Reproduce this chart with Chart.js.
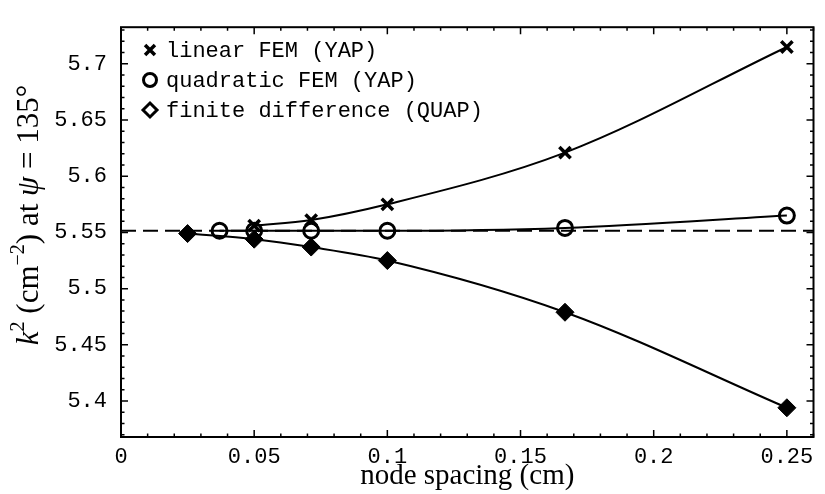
<!DOCTYPE html>
<html>
<head>
<meta charset="utf-8">
<script src="https://cdn.jsdelivr.net/npm/chart.js@4"></script>
<style>
  html, body { margin: 0; padding: 0; background: #fff; }
  canvas { display: block; }
</style>
</head>
<body>
<canvas id="k2Chart" width="825" height="494"></canvas>
<script>
// node spacings (cm) and k^2 values
const linearX = [0.05, 0.0714, 0.1, 0.1667, 0.25];
const linearK2 = [5.556, 5.561, 5.575, 5.621, 5.715];

const quadX = [0.037, 0.05, 0.0714, 0.1, 0.1667, 0.25];
const quadK2 = [5.5515, 5.5515, 5.5515, 5.5515, 5.554, 5.565];

const fdX = [0.025, 0.05, 0.0714, 0.1, 0.1667, 0.25];
const fdK2 = [5.549, 5.544, 5.537, 5.525, 5.479, 5.394];

const extrapolatedK2 = 5.5515;
const xRange = [0, 0.26];
const yRange = [5.368, 5.7326];

const xTicks = [0, 0.05, 0.1, 0.15, 0.2, 0.25];
const yTicks = [5.4, 5.45, 5.5, 5.55, 5.6, 5.65, 5.7];

const labels = ["linear FEM (YAP)", "quadratic FEM (YAP)", "finite difference (QUAP)"];

const toPoints = (xs, ys) => xs.map((x, i) => ({ x: x, y: ys[i] }));

const monoFont = '"Liberation Mono", "DejaVu Sans Mono", monospace';
const serifFont = '"Liberation Serif", "DejaVu Serif", serif';

// frame, inward ticks, legend and y title
const decorations = {
    id: "decorations",
    afterDraw(chart) {
        const ctx = chart.ctx;
        const area = chart.chartArea;
        const xs = chart.scales.x;
        const ys = chart.scales.y;
        ctx.save();
        ctx.strokeStyle = "#000";
        ctx.lineWidth = 2;
        ctx.strokeRect(area.left, area.top, area.right - area.left, area.bottom - area.top);

        ctx.lineWidth = 1.5;
        ctx.beginPath();
        for (let i = 0; i <= 26; i++) {
            const v = i * 0.01;
            const len = i % 5 === 0 ? 7 : 3.5;
            const px = xs.getPixelForValue(v);
            ctx.moveTo(px, area.bottom); ctx.lineTo(px, area.bottom - len);
            ctx.moveTo(px, area.top); ctx.lineTo(px, area.top + len);
        }
        for (let i = 537; i <= 573; i++) {
            const v = i / 100;
            const len = i % 5 === 0 ? 7 : 3.5;
            const py = ys.getPixelForValue(v);
            ctx.moveTo(area.left, py); ctx.lineTo(area.left + len, py);
            ctx.moveTo(area.right, py); ctx.lineTo(area.right - len, py);
        }
        ctx.stroke();

        // legend
        const styles = [
            { pointStyle: "crossRot", radius: 7, borderWidth: 3.5 },
            { pointStyle: "circle", radius: 6.5, borderWidth: 3 },
            { pointStyle: "rectRot", radius: 7, borderWidth: 3 }
        ];
        const rows = [50, 80, 110];
        ctx.font = "22px " + monoFont;
        ctx.textBaseline = "middle";
        ctx.textAlign = "left";
        styles.forEach((s, i) => {
            ctx.fillStyle = "#fff";
            ctx.strokeStyle = "#000";
            ctx.lineWidth = s.borderWidth;
            Chart.helpers.drawPoint(ctx, { pointStyle: s.pointStyle, radius: s.radius, rotation: 0, borderWidth: s.borderWidth }, 150, rows[i]);
            ctx.fillStyle = "#000";
            ctx.fillText(labels[i], 166, rows[i] + 1);
        });

        // y axis title with italic parts
        const parts = [
            { t: "k", f: "italic 31px " + serifFont, dy: 0 },
            { t: "2", f: "20px " + serifFont, dy: -11 },
            { t: " (cm", f: "31px " + serifFont, dy: 0 },
            { t: "\u22122", f: "20px " + serifFont, dy: -11 },
            { t: ") at ", f: "31px " + serifFont, dy: 0 },
            { t: "\u03c8", f: "italic 31px " + serifFont, dy: 0 },
            { t: " = 135\u00b0", f: "31px " + serifFont, dy: 0 }
        ];
        let total = 0;
        parts.forEach(p => { ctx.font = p.f; p.w = ctx.measureText(p.t).width; total += p.w; });
        ctx.translate(30, 215);
        ctx.rotate(-Math.PI / 2);
        let cx = -total / 2;
        ctx.textBaseline = "middle";
        parts.forEach(p => {
            ctx.font = p.f;
            ctx.fillText(p.t, cx, p.dy);
            cx += p.w;
        });
        ctx.restore();
    }
};

const ctx = document.getElementById("k2Chart").getContext("2d");
new Chart(ctx, {
    type: "line",
    data: {
        datasets: [{
            label: labels[0],
            data: toPoints(linearX, linearK2),
            borderColor: "#000",
            backgroundColor: "#000",
            borderWidth: 2,
            pointStyle: "crossRot",
            pointRadius: 8,
            pointBorderWidth: 3.5,
            cubicInterpolationMode: "monotone"
        }, {
            label: labels[1],
            data: toPoints(quadX, quadK2),
            borderColor: "#000",
            backgroundColor: "#000",
            borderWidth: 2,
            pointStyle: "circle",
            pointRadius: 7.5,
            pointBorderWidth: 3,
            pointBackgroundColor: "rgba(255,255,255,0)",
            cubicInterpolationMode: "monotone"
        }, {
            label: labels[2],
            data: toPoints(fdX, fdK2),
            borderColor: "#000",
            backgroundColor: "#000",
            borderWidth: 2,
            pointStyle: "rectRot",
            pointRadius: 9,
            pointBorderWidth: 1,
            cubicInterpolationMode: "monotone"
        }, {
            label: "extrapolated",
            data: [{ x: xRange[0], y: extrapolatedK2 }, { x: xRange[1], y: extrapolatedK2 }],
            borderColor: "#000",
            borderWidth: 2,
            borderDash: [15, 7],
            pointRadius: 0
        }]
    },
    options: {
        responsive: false,
        animation: false,
        devicePixelRatio: 1,
        layout: { padding: { top: 12, right: 2, left: 0, bottom: 0 } },
        plugins: {
            legend: { display: false },
            tooltip: { enabled: false }
        },
        scales: {
            x: {
                type: "linear",
                min: xRange[0],
                max: xRange[1],
                grid: { display: false, drawTicks: false },
                border: { display: false },
                afterBuildTicks: (s) => { s.ticks = xTicks.map(v => ({ value: v })); },
                afterFit: (s) => { s.height = 57; },
                ticks: {
                    color: "#000",
                    padding: 7,
                    font: { family: monoFont, size: 22 },
                    callback: (v) => String(Number(v.toFixed(2)))
                },
                title: {
                    display: true,
                    text: "node spacing (cm)",
                    color: "#000",
                    padding: { top: 0, bottom: 0 },
                    font: { family: serifFont, size: 29 }
                }
            },
            y: {
                type: "linear",
                min: yRange[0],
                max: yRange[1],
                grid: { display: false, drawTicks: false },
                border: { display: false },
                afterBuildTicks: (s) => { s.ticks = yTicks.map(v => ({ value: v })); },
                afterFit: (s) => { s.width = 121; },
                ticks: {
                    color: "#000",
                    padding: 14,
                    font: { family: monoFont, size: 22 },
                    callback: (v) => String(Number(v.toFixed(2)))
                }
            }
        }
    },
    plugins: [decorations]
});
</script>
</body>
</html>
